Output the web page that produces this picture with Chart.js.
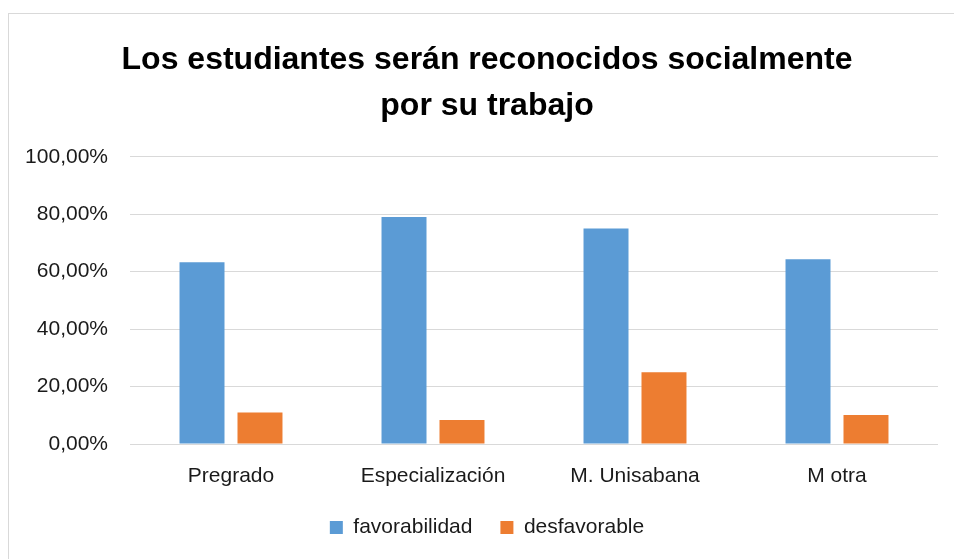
<!DOCTYPE html>
<html lang="es">
<head>
  <meta charset="UTF-8" />
  <title>Los estudiantes serán reconocidos socialmente por su trabajo</title>
  <style>
    html, body {
      margin: 0;
      padding: 0;
      background: #fff;
      overflow: hidden;
    }
    .wrap {
      position: relative;
      width: 954px;
      height: 559px;
    }
    .frame {
      position: absolute;
      left: 8px;
      top: 13px;
      width: 1000px;
      height: 1000px;
      border: 1px solid #d9d9d9;
      pointer-events: none;
    }
    canvas {
      position: absolute;
      left: 0;
      top: 0;
    }
  </style>
</head>
<body>
  <div class="wrap">
    <canvas id="chart" width="954" height="559"></canvas>
    <div class="frame"></div>
  </div>

  <script src="https://cdn.jsdelivr.net/npm/chart.js"></script>
  <script>
    // datos
    const categorias = ["Pregrado", "Especialización", "M. Unisabana", "M otra"];
    const favorabilidad = [63.3, 79.0, 75.0, 64.3];
    const desfavorable = [11.0, 8.4, 25.0, 10.1];
    const ticksY = [0, 20, 40, 60, 80, 100];

    const fuente = "'Liberation Sans', Arial, sans-serif";

    const ctx = document.getElementById("chart").getContext("2d");
    const chart = new Chart(ctx, {
      type: "bar",
      data: {
        labels: categorias,
        datasets: [
          {
            label: "favorabilidad",
            data: favorabilidad,
            backgroundColor: "#5B9BD5",
            categoryPercentage: 0.574,
            barPercentage: 0.776
          },
          {
            label: "desfavorable",
            data: desfavorable,
            backgroundColor: "#ED7D31",
            categoryPercentage: 0.574,
            barPercentage: 0.776
          }
        ]
      },
      options: {
        responsive: false,
        animation: false,
        layout: {
          padding: { left: 20, right: 0, top: 0, bottom: 11 }
        },
        plugins: {
          tooltip: { enabled: false },
          title: {
            display: true,
            text: ["Los estudiantes serán reconocidos socialmente", "por su trabajo"],
            color: "#000",
            font: { family: fuente, size: 32, weight: "bold", lineHeight: 1.45 },
            padding: { top: 37, bottom: 27 }
          },
          legend: {
            position: "bottom",
            labels: {
              color: "#1a1a1a",
              font: { family: fuente, size: 21 },
              boxWidth: 13,
              boxHeight: 13,
              padding: 28
            }
          }
        },
        scales: {
          x: {
            grid: { display: false, drawTicks: false },
            border: { display: false },
            afterFit: (scale) => {
              scale.height = 45;
            },
            ticks: {
              color: "#1a1a1a",
              font: { family: fuente, size: 21 },
              padding: 20
            }
          },
          y: {
            min: 0,
            max: 100,
            afterBuildTicks: (scale) => {
              scale.ticks = ticksY.map(v => ({ value: v }));
            },
            afterFit: (scale) => {
              scale.width = 110;
            },
            grid: { color: "#d9d9d9", lineWidth: 1, drawTicks: false },
            border: { display: false },
            ticks: {
              color: "#1a1a1a",
              font: { family: fuente, size: 21 },
              padding: 22,
              callback: (v) => v.toFixed(2).replace(".", ",") + "%"
            }
          },
          // margen derecho vacío, para que título y leyenda queden centrados como en el original
          margen: {
            type: "linear",
            position: "right",
            grid: { display: false, drawTicks: false },
            border: { display: false },
            ticks: { display: false },
            afterFit: (scale) => {
              scale.width = 16;
            }
          }
        }
      }
    });
  </script>
</body>
</html>
